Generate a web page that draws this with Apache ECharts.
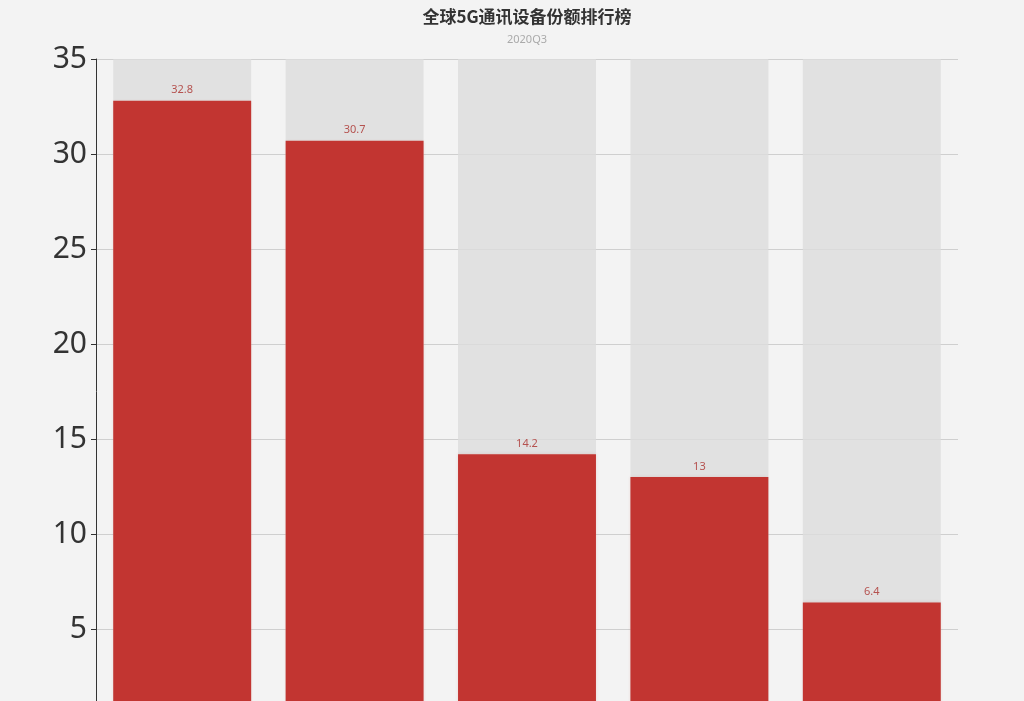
<!DOCTYPE html>
<html><head><meta charset="utf-8">
<script src="https://cdn.jsdelivr.net/npm/echarts@6/dist/echarts.min.js"></script>
<style>html,body{margin:0;padding:0;background:#f3f3f3;overflow:hidden;}#c{width:1024px;height:800px;}</style>
</head><body><div id="c"></div>
<script>
const categories = ['华为', '爱立信', '诺基亚', '中兴', '三星'];
const shares = [32.8, 30.7, 14.2, 13, 6.4];
const yTicks = { min: 0, max: 35, interval: 5 };

const chart = echarts.init(document.getElementById('c'));
chart.setOption({
  backgroundColor: '#f3f3f3',
  animation: false,
  title: {
    text: '全球5G通讯设备份额排行榜',
    subtext: '2020Q3',
    left: 522,
    top: 3,
    textAlign: 'center',
    itemGap: 9,
    textStyle: { fontFamily: 'Noto Sans CJK SC', fontSize: 17, fontWeight: 'bold', color: '#333' },
    subtextStyle: { fontFamily: 'Noto Sans', fontSize: 11, color: '#aaa' }
  },
  grid: { left: 96, right: 66, top: 59, bottom: 76 },
  xAxis: {
    type: 'category',
    data: categories,
    axisLine: { lineStyle: { color: '#333' } },
    axisLabel: { fontSize: 14, color: '#333' }
  },
  yAxis: {
    type: 'value',
    min: yTicks.min, max: yTicks.max, interval: yTicks.interval,
    axisLine: { show: true, lineStyle: { color: '#333' } },
    axisTick: { show: true, length: 5 },
    axisLabel: { fontSize: 30, color: '#333', margin: 9, fontFamily: 'Noto Sans' },
    splitLine: { lineStyle: { color: '#cfcfcf' } }
  },
  series: [{
    type: 'bar',
    data: shares,
    barWidth: '80%',
    showBackground: true,
    backgroundStyle: { color: 'rgba(220,220,220,0.8)' },
    itemStyle: { color: '#c23531', shadowColor: 'rgba(194,53,49,0.15)', shadowBlur: 3 },
    label: { show: true, position: 'top', color: '#b5524f', fontSize: 11, fontFamily: 'Noto Sans', distance: 5 }
  }]
});
</script></body></html>
